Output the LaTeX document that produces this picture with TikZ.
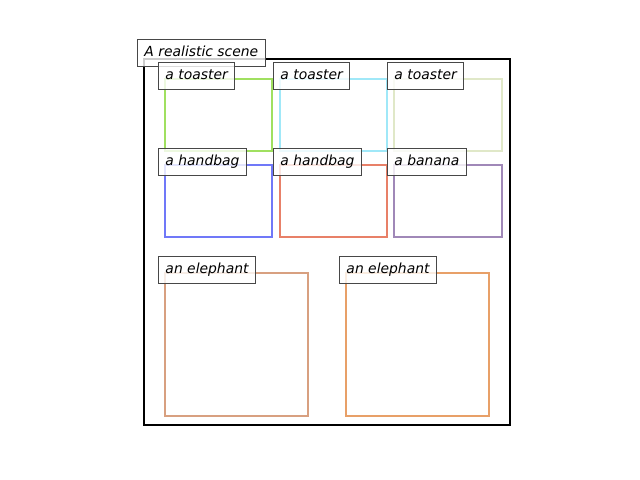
\documentclass[tikz,border=0pt]{standalone}
\usepackage{fontspec}
\setmainfont{DejaVu Sans}
\usepackage{tikz}
\definecolor{toastA}{RGB}{160,224,96}
\definecolor{toastB}{RGB}{160,232,248}
\definecolor{toastC}{RGB}{224,232,200}
\definecolor{bagA}{RGB}{112,120,248}
\definecolor{bagB}{RGB}{232,128,104}
\definecolor{banana}{RGB}{160,136,184}
\definecolor{elephA}{RGB}{216,160,128}
\definecolor{elephB}{RGB}{232,160,104}
\tikzset{
  objbox/.style={line width=1.44pt},
  tag/.style={anchor=base west,xshift=-5pt,draw=black!72,line width=0.7pt,fill=white,fill opacity=0.8,text opacity=1,
    inner xsep=5pt,inner ysep=4.8pt,text height=7.4pt,text depth=2.4pt,font=\itshape\fontsize{10}{12}\selectfont}
}

\begin{document}
\begin{tikzpicture}[x=0.72pt,y=-0.72pt]
          \useasboundingbox (0,0) rectangle (640,480);
          \draw [line width=2pt] (144,59) rectangle (510,425);
          % toasters
          \draw [objbox,color=toastA] (165,79) rectangle (272,151);
          \draw [objbox,color=toastB] (280,79) rectangle (387,151);
          \draw [objbox,color=toastC] (394,79) rectangle (502,151);
          % handbags and banana
          \draw [objbox,color=bagA] (165,165) rectangle (272,237);
          \draw [objbox,color=bagB] (280,165) rectangle (387,237);
          \draw [objbox,color=banana] (394,165) rectangle (502,237);
          % elephants
          \draw [objbox,color=elephA] (165,273) rectangle (308,416);
          \draw [objbox,color=elephB] (346,273) rectangle (489,416);
          % labels
          \draw (144,56) node [tag] (scene) {A realistic scene};
          \draw (165,79) node [tag] (toaster1) {a toaster};
          \draw (280,79) node [tag] (toaster2) {a toaster};
          \draw (394,79) node [tag] (toaster3) {a toaster};
          \draw (165,165) node [tag] (handbag1) {a handbag};
          \draw (280,165) node [tag] (handbag2) {a handbag};
          \draw (394,165) node [tag] (banana) {a banana};
          \draw (165,273) node [tag] (elephant1) {an elephant};
          \draw (346,273) node [tag] (elephant2) {an elephant};
\end{tikzpicture}
\end{document}
